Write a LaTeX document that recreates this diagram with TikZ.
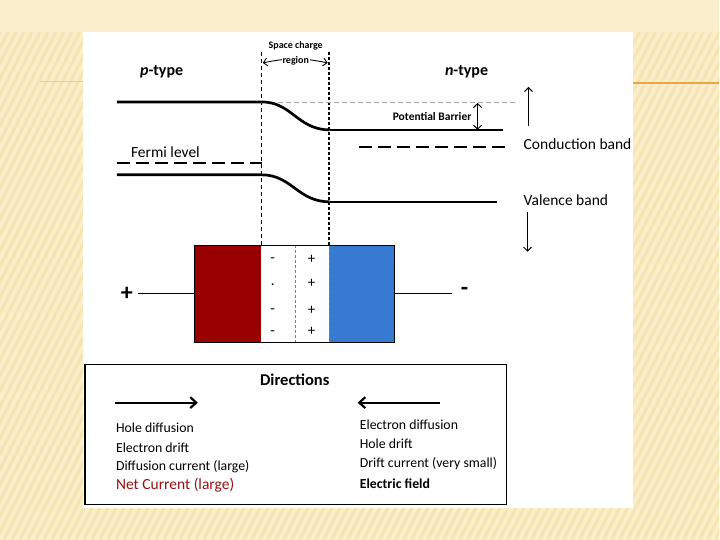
\documentclass[tikz,border=0pt]{standalone}
\usepackage{fontspec}
\setmainfont{Carlito}
\usetikzlibrary{arrows.meta,positioning}
\definecolor{SlideCream}{RGB}{251,238,204}
\definecolor{SlideStripe}{RGB}{246,229,178}
\definecolor{SlideOrange}{RGB}{233,167,72}
\definecolor{PRed}{RGB}{153,0,0}
\definecolor{NBlue}{RGB}{55,122,210}
\definecolor{NetRed}{RGB}{150,18,18}

\begin{document}
\begin{tikzpicture}[x=1pt,y=-1pt,
    band/.style={line width=2.7pt},
    fermi/.style={line width=2.7pt, dash pattern=on 13pt off 6pt},
    lbl/.style={inner sep=0pt, font=\fontsize{15.5}{17}\selectfont},
    tiny/.style={inner sep=0pt, font=\bfseries\fontsize{10}{12}\selectfont},
    listtxt/.style={inner sep=0pt, anchor=west, font=\fontsize{13.8}{15}\selectfont},
    sign/.style={inner sep=0pt, font=\fontsize{15}{17}\selectfont},
    block/.style={inner sep=0pt, outer sep=0pt, minimum height=97pt},
    wire/.style={line width=1.3pt},
    dirarrow/.style={line width=1.8pt, -{Straight Barb[length=6pt,width=11pt,line width=2.2pt]}},
    barb/.style={line width=1pt, -{Straight Barb[length=4pt,width=8pt]}}
]
% slide background
\fill[SlideCream] (0,0) rectangle (720,540);
\begin{scope}
\clip (0,32) rectangle (720,540);
\foreach \s in {-300,-292,...,720}
    \draw[SlideStripe, line width=3pt] (\s,540) -- (\s+260,32);
\end{scope}
\draw[SlideOrange!60, line width=1pt] (40,82) -- (83,82);
\draw[SlideOrange, line width=1.3pt] (634,83) -- (720,83);
\fill[white] (83,32) rectangle (634,508);

% labels on top
\node[lbl, font=\bfseries\fontsize{16}{18}\selectfont, anchor=west] (ptype) at (140,72) {\textit{p}-type};
\node[lbl, font=\bfseries\fontsize{16}{18}\selectfont] (ntype) at (467,72) {\textit{n}-type};
\node[tiny] (scr) at (296,46) {Space charge};

% junction edges
\coordinate (jl) at (262,52);
\coordinate (jr) at (329,52);
\draw[line width=0.8pt, dash pattern=on 4pt off 3pt] (jl) -- (jl |- 0,245);
\draw[line width=1.9pt, dash pattern=on 3pt off 2pt] (jr) -- (jr |- 0,245);
\draw[line width=0.9pt, {Straight Barb[length=4pt,width=8pt]}-{Straight Barb[length=4pt,width=8pt]}]
    (263,63) to[bend left=12] (328,63);
\node[tiny, fill=white, inner sep=1pt] (region) at (296,61) {region};

% energy bands
\draw[gray!70, line width=0.7pt, dash pattern=on 5pt off 3pt] (262,102) -- (515,102);
\draw[band] (117,102) -- (262,102) .. controls (292,102) and (298,130) .. (330,130);
\draw[line width=2pt] (330,130) -- (503,130);
\draw[band] (117,175) -- (262,175) .. controls (292,175) and (298,202) .. (330,202);
\draw[line width=2.4pt] (330,202) -- (497,202);
\draw[fermi] (117,163) -- (262,163);
\draw[fermi] (359,147) -- (505,147);
\node[lbl, anchor=west] (fermi) at (131,152) {Fermi level};

\coordinate (pbtop) at (478,103);
\coordinate (pbbot) at (478,130);
\draw[line width=1pt, {Straight Barb[length=4pt,width=8pt]}-{Straight Barb[length=4pt,width=8pt]}] (pbtop) -- (pbbot);
\node[tiny, font=\bfseries\fontsize{11.5}{13}\selectfont, anchor=east] (barrier) at (472,117) {Potential Barrier};

\node[lbl, anchor=west] (cband) at (524,144) {Conduction band};
\node[lbl, anchor=west] (vband) at (524,200) {Valence band};
\coordinate (cup) at (529,126);
\coordinate (cupend) at (529,87);
\coordinate (vdn) at (528,212);
\coordinate (vdnend) at (528,252);
\draw[barb] (cup) -- (cupend);
\draw[barb] (vdn) -- (vdnend);

% the diode
\node[block, fill=PRed, minimum width=66pt] (pside) at (228,294) {};
\node[block, fill=white, minimum width=68pt, right=0pt of pside] (depl) {};
\node[block, fill=NBlue, minimum width=66pt, right=0pt of depl] (nside) {};
\draw[gray, dash pattern=on 3pt off 2pt] (depl.north) -- (depl.south);
\draw[gray, dash pattern=on 3pt off 2pt] (depl.north east) -- (depl.south east);
\draw[line width=1.3pt] (pside.north west) rectangle (nside.south east);

\node[sign] (m1) at (273,260) {-};
\node[sign] (m2) at (273,285) {.};
\node[sign] (m3) at (273,311) {-};
\node[sign] (m4) at (273,333) {-};
\foreach \y/\n in {260/1,284/2,311/3,332/4}
    \node[sign] (p\n) at (312,\y) {+};

\node[inner sep=0pt, font=\bfseries\fontsize{24}{26}\selectfont] (plus) at (127,294) {+};
\node[inner sep=0pt, font=\bfseries\fontsize{24}{26}\selectfont] (minus) at (465,292) {-};
\draw[wire, shorten <=5pt] (plus) -- (pside);
\draw[wire] (nside.east) -- (452,294) coordinate (wr);

% directions box
\node[draw, line width=1.3pt, minimum width=422pt, minimum height=140pt] (dirbox) at (296,435) {};
\node[inner sep=0pt, font=\bfseries\fontsize{16.5}{18}\selectfont] (dirtitle) at (295,380) {Directions};
\coordinate (ra) at (115,403);
\coordinate (rb) at (198,403);
\coordinate (la) at (440,403);
\coordinate (lb) at (358,403);
\draw[dirarrow] (ra) -- (rb);
\draw[dirarrow] (la) -- (lb);

\node[listtxt] (hdiff) at (116,428) {Hole diffusion};
\node[listtxt] (edrift) at (116,448) {Electron drift};
\node[listtxt] (dcurr) at (116,467) {Diffusion current (large)};
\node[listtxt, text=NetRed, font=\fontsize{15.5}{17}\selectfont] (netc) at (116,486) {Net Current (large)};

\node[listtxt] (ediff) at (360,425) {Electron diffusion};
\node[listtxt] (hdrift) at (360,444) {Hole drift};
\node[listtxt] (drcurr) at (360,464) {Drift current (very small)};
\node[listtxt, font=\bfseries\fontsize{13.8}{15}\selectfont] (efield) at (360,484) {Electric field};
\end{tikzpicture}
\end{document}
